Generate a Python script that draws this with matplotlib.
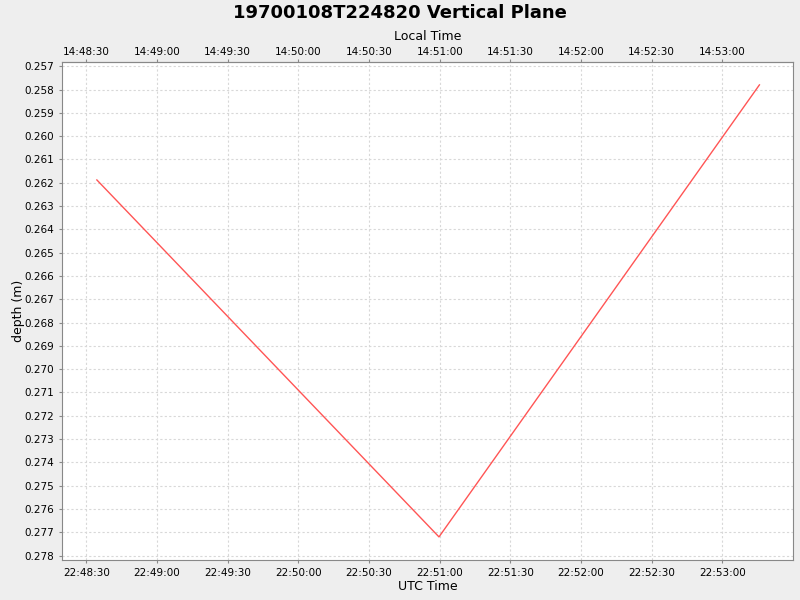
import datetime as dt

import matplotlib
matplotlib.use('Agg')
import matplotlib.pyplot as plt
import matplotlib.dates as mdates
from matplotlib.ticker import FuncFormatter, MultipleLocator

title = '19700108T224820 Vertical Plane'
utc_times = ['1970-01-08 22:48:34.5', '1970-01-08 22:50:59.7', '1970-01-08 22:53:15.7']
depths = [0.26188, 0.27720, 0.25780]
local_offset_hours = -8

times = [dt.datetime.strptime(t, '%Y-%m-%d %H:%M:%S.%f') for t in utc_times]
x_start = dt.datetime(1970, 1, 8, 22, 48, 19, 700000)
x_end = dt.datetime(1970, 1, 8, 22, 53, 29, 900000)

grey = '#888888'
fig = plt.figure(figsize=(8, 6), dpi=100, facecolor='#eeeeee')
ax = fig.add_axes([0.0775, 0.0667, 0.9136, 0.8295])
ax.set_facecolor('white')

ax.plot(times, depths, color='#ff5555', lw=1)

ax.set_xlim(x_start, x_end)
ax.set_ylim(0.27819, 0.25683)
ax.yaxis.set_major_locator(MultipleLocator(0.001))
ax.yaxis.set_major_formatter(FuncFormatter(lambda v, p: '%.3f' % v))

ax.xaxis.set_major_locator(mdates.SecondLocator(bysecond=[0, 30]))
ax.xaxis.set_major_formatter(mdates.DateFormatter('%H:%M:%S'))

ax.grid(True, color='#d8d8d8', linestyle=(0, (2, 2)), linewidth=0.8)
for s in ax.spines.values():
    s.set_color(grey)
ax.tick_params(colors=grey, labelcolor='black', labelsize=7.5, length=2, width=0.8)

top = ax.secondary_xaxis('top')
top.xaxis.set_major_locator(mdates.SecondLocator(bysecond=[0, 30]))
top.xaxis.set_major_formatter(FuncFormatter(
    lambda v, p: (mdates.num2date(v) + dt.timedelta(hours=local_offset_hours)).strftime('%H:%M:%S')))
top.tick_params(colors=grey, labelcolor='black', labelsize=7.5, length=2, width=0.8, pad=2)
top.spines['top'].set_color(grey)
top.set_xlabel('Local Time', fontsize=9, labelpad=5)

ax.set_xlabel('UTC Time', fontsize=9, labelpad=2)
ax.set_ylabel('depth (m)', fontsize=9, labelpad=0)
fig.suptitle(title, fontsize=13, fontweight='bold', y=0.993)

fig.savefig('out.png', dpi=100, facecolor=fig.get_facecolor())
